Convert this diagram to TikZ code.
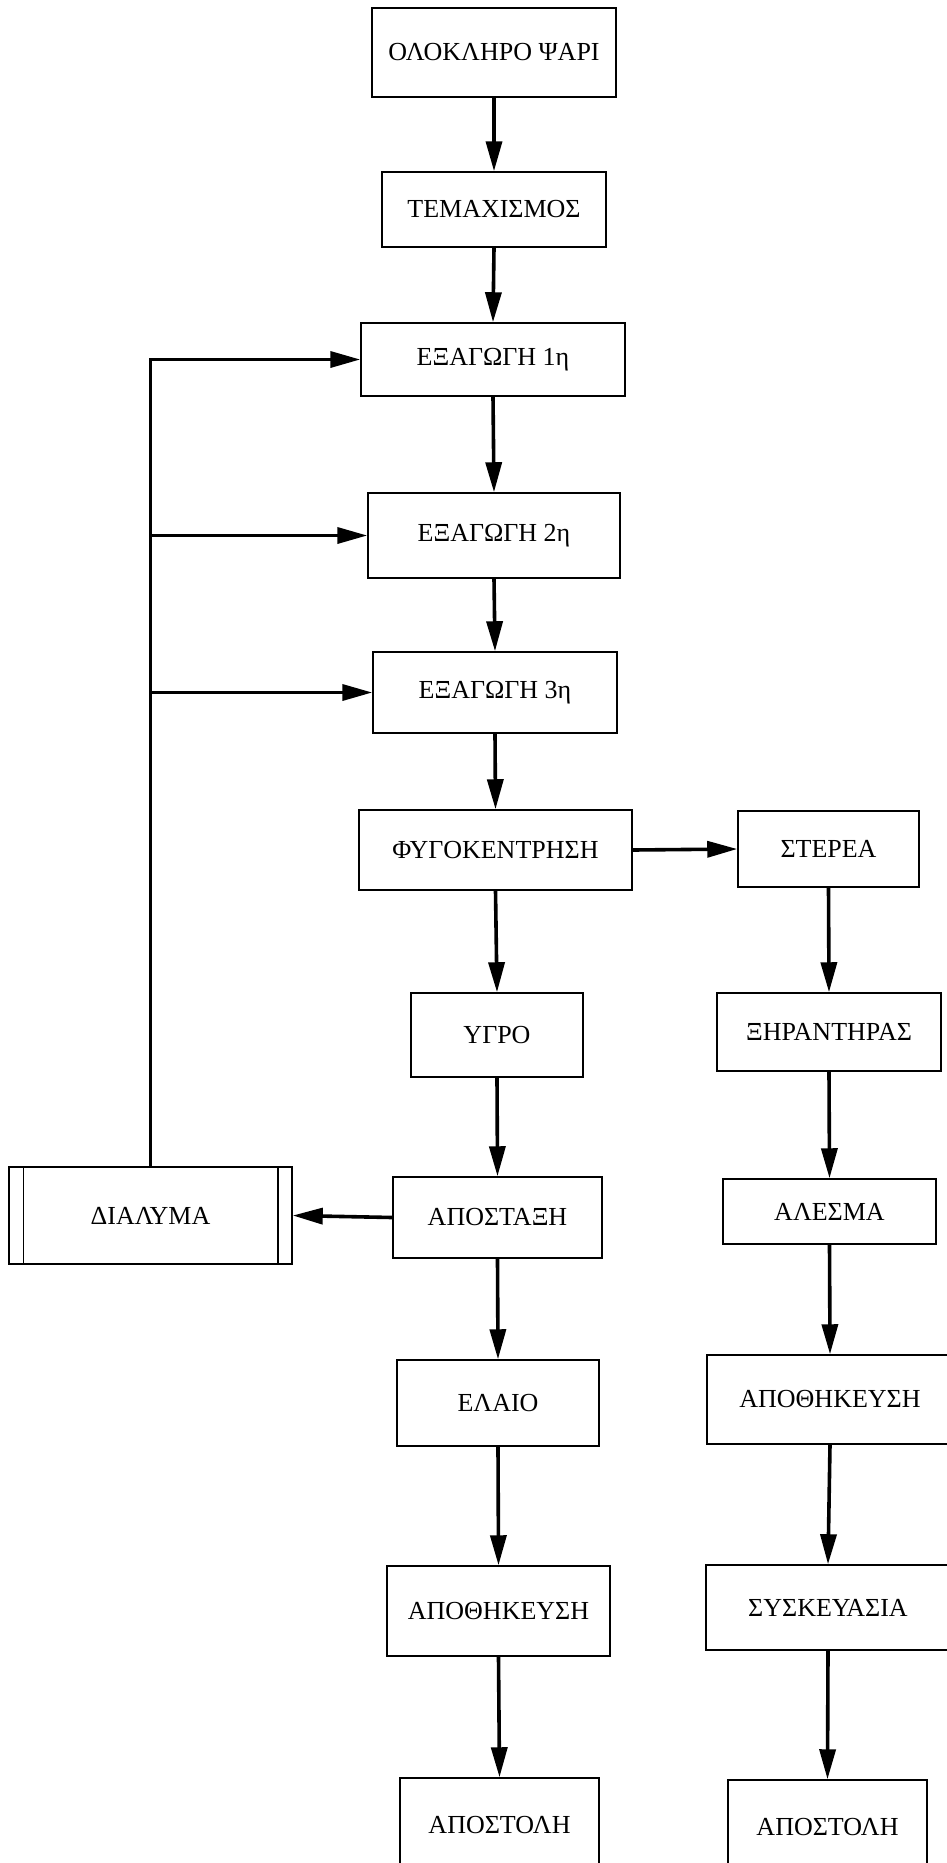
\documentclass[tikz,border=0pt]{standalone}
\usepackage{fontspec}
\setmainfont{Liberation Serif}
\usetikzlibrary{arrows.meta}
\begin{document}
\begin{tikzpicture}[x=1pt,y=-1pt,
  box/.style={draw, line width=1.5pt, inner sep=0pt, font=\fontsize{26}{30}\selectfont},
  flow/.style={line width=3.6pt, -{Triangle[length=30pt,width=16pt]}},
  bar/.style={line width=1.5pt}]
\useasboundingbox (0,0) rectangle (947,1863);
\clip (0,0) rectangle (947,1863);

% main column
\node[box, minimum width=244pt, minimum height=89pt] (whole)  at (494,52.5)   {ΟΛΟΚΛΗΡΟ ΨΑΡΙ};
\node[box, minimum width=224pt, minimum height=75pt] (cut)    at (494,209.5)  {ΤΕΜΑΧΙΣΜΟΣ};
\node[box, minimum width=264pt, minimum height=73pt] (ex1)    at (493,359.5)  {ΕΞΑΓΩΓΗ 1η};
\node[box, minimum width=252pt, minimum height=85pt] (ex2)    at (494,535.5)  {ΕΞΑΓΩΓΗ 2η};
\node[box, minimum width=244pt, minimum height=81pt] (ex3)    at (495,692.5)  {ΕΞΑΓΩΓΗ 3η};
\node[box, minimum width=273pt, minimum height=80pt] (cent)   at (495.5,850)  {ΦΥΓΟΚΕΝΤΡΗΣΗ};
\node[box, minimum width=172pt, minimum height=84pt] (liquid) at (497,1035)   {ΥΓΡΟ};
\node[box, minimum width=209pt, minimum height=81pt] (dist)   at (497.5,1217.5) {ΑΠΟΣΤΑΞΗ};
\node[box, minimum width=202pt, minimum height=86pt] (oil)    at (498,1403)   {ΕΛΑΙΟ};
\node[box, minimum width=223pt, minimum height=90pt] (storeL) at (498.5,1611) {ΑΠΟΘΗΚΕΥΣΗ};
\node[box, minimum width=199pt, minimum height=94pt] (shipL)  at (499.5,1825) {ΑΠΟΣΤΟΛΗ};

% solids column
\node[box, minimum width=181pt, minimum height=76pt] (solid)  at (828.5,849)  {ΣΤΕΡΕΑ};
\node[box, minimum width=224pt, minimum height=78pt] (dryer)  at (829,1032)   {ΞΗΡΑΝΤΗΡΑΣ};
\node[box, minimum width=213pt, minimum height=65pt] (mill)   at (829.5,1211.5) {ΑΛΕΣΜΑ};
\node[box, minimum width=246pt, minimum height=89pt] (storeR) at (830,1399.5) {ΑΠΟΘΗΚΕΥΣΗ};
\node[box, minimum width=244pt, minimum height=85pt] (pack)   at (828,1607.5) {ΣΥΣΚΕΥΑΣΙΑ};
\node[box, minimum width=199pt, minimum height=94pt] (shipR)  at (827.5,1827) {ΑΠΟΣΤΟΛΗ};

% solution store (predefined-process box)
\node[box, minimum width=283pt, minimum height=97pt] (sol) at (150.5,1215.5) {ΔΙΑΛΥΜΑ};
\draw[bar] ([xshift=15pt]sol.north west) -- ([xshift=15pt]sol.south west);
\draw[bar] ([xshift=-15pt]sol.north east) -- ([xshift=-15pt]sol.south east);

% process flow
\draw[flow] (whole.south) -- (cut.north);
\draw[flow] (cut.south) -- (ex1.north);
\draw[flow] (ex1.south) -- (ex2.north);
\draw[flow] (ex2.south) -- (ex3.north);
\draw[flow] (ex3.south) -- (cent.north);
\draw[flow] (cent.east) -- (solid.west);
\draw[flow] (cent.south) -- (liquid.north);
\draw[flow] (liquid.south) -- (dist.north);
\draw[flow] (dist.west) -- (sol.east);
\draw[flow] (dist.south) -- (oil.north);
\draw[flow] (oil.south) -- (storeL.north);
\draw[flow] (storeL.south) -- (shipL.north);
\draw[flow] (solid.south) -- (dryer.north);
\draw[flow] (dryer.south) -- (mill.north);
\draw[flow] (mill.south) -- (storeR.north);
\draw[flow] (storeR.south) -- (pack.north);
\draw[flow] (pack.south) -- (shipR.north);

% solvent recycled to the extraction stages
\draw[flow] (sol.north) |- (ex1.west);
\draw[flow] (sol.north |- ex2.west) -- (ex2.west);
\draw[flow] (sol.north |- ex3.west) -- (ex3.west);
\end{tikzpicture}
\end{document}
